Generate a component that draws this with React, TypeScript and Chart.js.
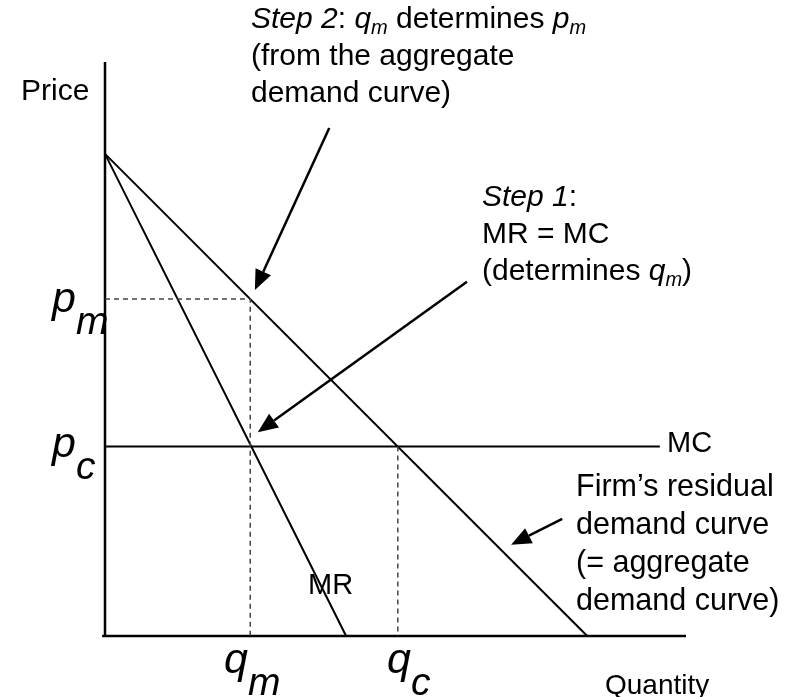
import React, { useEffect, useRef } from "react";
import { Chart, registerables } from "chart.js";

Chart.register(...registerables);

// ---- Data (quantity units on x, price units on y) ----
const axisMaxQ = 10;
const axisMaxP = 10;
const demandQ = [0, 8.3];
const demandP = [8.4, 0];
const mrQ = [0, 4.15];
const mrP = [8.4, 0];
const mcQ = [0, 9.55];
const mcP = [3.3, 3.3];
const qm = 2.5;
const pm = 5.87;
const qc = 5.04;
const pc = 3.3;

// annotation arrows: [tailQ, tailP, tipQ, tipP]
const step2Arrow = [3.86, 8.85, 2.58, 6.03];
const step1Arrow = [6.23, 6.17, 2.63, 3.55];
const demandArrow = [7.87, 2.04, 6.99, 1.59];

type Seg = { t: string; i?: boolean; sub?: boolean };

const priceText: Seg[][] = [[{ t: "Price" }]];
const quantityText: Seg[][] = [[{ t: "Quantity" }]];
const mcText: Seg[][] = [[{ t: "MC" }]];
const mrText: Seg[][] = [[{ t: "MR" }]];
const step2Text: Seg[][] = [
  [
    { t: "Step 2", i: true },
    { t: ": " },
    { t: "q", i: true },
    { t: "m", i: true, sub: true },
    { t: " determines " },
    { t: "p", i: true },
    { t: "m", i: true, sub: true },
  ],
  [{ t: "(from the aggregate" }],
  [{ t: "demand curve)" }],
];
const step1Text: Seg[][] = [
  [{ t: "Step 1", i: true }, { t: ":" }],
  [{ t: "MR = MC" }],
  [{ t: "(determines " }, { t: "q", i: true }, { t: "m", i: true, sub: true }, { t: ")" }],
];
const firmText: Seg[][] = [
  [{ t: "Firm\u2019s residual" }],
  [{ t: "demand curve" }],
  [{ t: "(= aggregate" }],
  [{ t: "demand curve)" }],
];
const pmLabel: Seg[][] = [[{ t: "p", i: true }, { t: "m", i: true, sub: true }]];
const pcLabel: Seg[][] = [[{ t: "p", i: true }, { t: "c", i: true, sub: true }]];
const qmLabel: Seg[][] = [[{ t: "q", i: true }, { t: "m", i: true, sub: true }]];
const qcLabel: Seg[][] = [[{ t: "q", i: true }, { t: "c", i: true, sub: true }]];

const FONT = '"Liberation Sans", Arial, Helvetica, sans-serif';

type Block = {
  lines: Seg[][];
  x: number;
  y: number; // first baseline
  size: number;
  subSize: number;
  subDy: number;
  lh: number;
};

const blocks: Block[] = [
  { lines: priceText, x: 21, y: 100, size: 30, subSize: 20, subDy: 6, lh: 37 },
  { lines: step2Text, x: 251, y: 28, size: 30, subSize: 20, subDy: 6, lh: 37 },
  { lines: step1Text, x: 482, y: 206, size: 30, subSize: 20, subDy: 6, lh: 37 },
  { lines: mcText, x: 667, y: 452, size: 29, subSize: 20, subDy: 6, lh: 37 },
  { lines: firmText, x: 576, y: 496, size: 30.5, subSize: 20, subDy: 6, lh: 38 },
  { lines: mrText, x: 308, y: 594, size: 29, subSize: 20, subDy: 6, lh: 37 },
  { lines: quantityText, x: 605, y: 694, size: 28, subSize: 20, subDy: 6, lh: 37 },
  { lines: pmLabel, x: 52, y: 312, size: 43, subSize: 39, subDy: 22, lh: 40 },
  { lines: pcLabel, x: 52, y: 457, size: 43, subSize: 39, subDy: 22, lh: 40 },
  { lines: qmLabel, x: 224, y: 673, size: 43, subSize: 39, subDy: 22, lh: 40 },
  { lines: qcLabel, x: 387, y: 673, size: 43, subSize: 39, subDy: 22, lh: 40 },
];

function drawArrow(ctx: CanvasRenderingContext2D, x1: number, y1: number, x2: number, y2: number) {
  const ang = Math.atan2(y2 - y1, x2 - x1);
  const headLen = 20;
  const headW = 8.5;
  const bx = x2 - headLen * Math.cos(ang);
  const by = y2 - headLen * Math.sin(ang);
  ctx.save();
  ctx.strokeStyle = "#000";
  ctx.fillStyle = "#000";
  ctx.lineWidth = 2.5;
  ctx.beginPath();
  ctx.moveTo(x1, y1);
  ctx.lineTo(bx, by);
  ctx.stroke();
  ctx.beginPath();
  ctx.moveTo(x2, y2);
  ctx.lineTo(bx + headW * Math.sin(ang), by - headW * Math.cos(ang));
  ctx.lineTo(bx - headW * Math.sin(ang), by + headW * Math.cos(ang));
  ctx.closePath();
  ctx.fill();
  ctx.restore();
}

const annotationPlugin = {
  id: "econAnnotations",
  afterDatasetsDraw(chart: any) {
    const ctx: CanvasRenderingContext2D = chart.ctx;
    const xs = chart.scales.x;
    const ys = chart.scales.y;
    [step2Arrow, step1Arrow, demandArrow].forEach((a) => {
      drawArrow(
        ctx,
        xs.getPixelForValue(a[0]),
        ys.getPixelForValue(a[1]),
        xs.getPixelForValue(a[2]),
        ys.getPixelForValue(a[3])
      );
    });
    ctx.save();
    ctx.fillStyle = "#000";
    ctx.textBaseline = "alphabetic";
    ctx.textAlign = "left";
    blocks.forEach((b) => {
      b.lines.forEach((line, li) => {
        let x = b.x;
        const y = b.y + li * b.lh;
        line.forEach((s) => {
          const size = s.sub ? b.subSize : b.size;
          ctx.font = `${s.i ? "italic " : ""}${size}px ${FONT}`;
          ctx.fillText(s.t, x, s.sub ? y + b.subDy : y);
          x += ctx.measureText(s.t).width;
        });
      });
    });
    ctx.restore();
  },
};

function pts(qs: number[], ps: number[]) {
  return qs.map((q, i) => ({ x: q, y: ps[i] }));
}

export default function App() {
  const ref = useRef<HTMLCanvasElement | null>(null);
  useEffect(() => {
    if (!ref.current) return;
    const solid = (data: any[], w = 2) => ({
      data,
      showLine: true,
      borderColor: "#000",
      borderWidth: w,
      pointRadius: 0,
      fill: false,
      clip: false as any,
    });
    const dashed = (data: any[]) => ({
      data,
      showLine: true,
      borderColor: "#444",
      borderWidth: 1.5,
      borderDash: [5, 4],
      pointRadius: 0,
      fill: false,
      clip: false as any,
    });
    const chart = new Chart(ref.current, {
      type: "scatter",
      data: {
        datasets: [
          dashed([{ x: 0, y: pm }, { x: qm, y: pm }, { x: qm, y: 0 }]),
          dashed([{ x: qc, y: pc }, { x: qc, y: 0 }]),
          solid([{ x: -0.05, y: 0 }, { x: axisMaxQ, y: 0 }], 2.5),
          solid([{ x: 0, y: 0 }, { x: 0, y: axisMaxP }], 2.5),
          solid(pts(demandQ, demandP)),
          solid(pts(mrQ, mrP)),
          solid(pts(mcQ, mcP)),
        ] as any,
      },
      options: {
        responsive: false,
        animation: false,
        layout: { padding: { left: 105, right: 103, top: 62, bottom: 61 } },
        scales: {
          x: { type: "linear", display: false, min: 0, max: axisMaxQ },
          y: { type: "linear", display: false, min: 0, max: axisMaxP },
        },
        plugins: { legend: { display: false }, tooltip: { enabled: false } },
        events: [],
      } as any,
      plugins: [annotationPlugin],
    });
    return () => chart.destroy();
  }, []);
  return (
    <div style={{ position: "absolute", left: 0, top: 0, width: 789, height: 697, background: "#fff" }}>
      <canvas ref={ref} width={789} height={697} style={{ width: 789, height: 697, display: "block" }} />
    </div>
  );
}
